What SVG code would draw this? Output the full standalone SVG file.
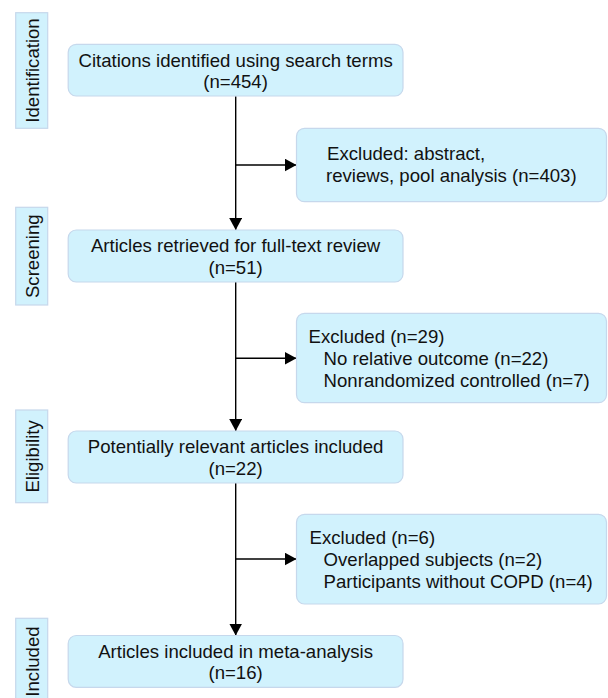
<svg xmlns="http://www.w3.org/2000/svg" width="608" height="698" viewBox="0 0 608 698">
<defs>
<style>
.box{fill:#D1F2FD;stroke:#C6D8EC;stroke-width:1.2}
.lbl{fill:#D1F2FD;stroke:#C6D8EC;stroke-width:1.2}
text{font-family:"Liberation Sans",Arial,sans-serif;font-size:18.6px;fill:#111}
.c{text-anchor:middle}
.conn{fill:none;stroke:#000;stroke-width:1.4}
</style>
<marker id="ah" markerUnits="userSpaceOnUse" markerWidth="12" markerHeight="13" refX="12" refY="6.5" orient="auto">
<path d="M0,0 L12,6.5 L0,13 Z" fill="#000"/>
</marker>
</defs>
<rect width="608" height="698" fill="#fff"/>

<g id="label-identification">
<rect class="lbl" x="15.7" y="12.7" width="32" height="115.6"/>
<text class="c" transform="translate(39,70.5) rotate(-90)">Identification</text>
</g>
<g id="label-screening">
<rect class="lbl" x="15.7" y="207.3" width="32" height="97.7"/>
<text class="c" transform="translate(39,256.2) rotate(-90)">Screening</text>
</g>
<g id="label-eligibility">
<rect class="lbl" x="15.7" y="410" width="32" height="92.7"/>
<text class="c" transform="translate(39,456.4) rotate(-90)">Eligibility</text>
</g>
<g id="label-included">
<rect class="lbl" x="15.7" y="618.3" width="32" height="86"/>
<text class="c" transform="translate(39,661.5) rotate(-90)">Included</text>
</g>

<g id="connectors">
<path class="conn" d="M235.7,96.2 V230" marker-end="url(#ah)"/>
<path class="conn" d="M235.7,165 H296.5" marker-end="url(#ah)"/>
<path class="conn" d="M235.7,282 V431" marker-end="url(#ah)"/>
<path class="conn" d="M235.7,358.3 H296.5" marker-end="url(#ah)"/>
<path class="conn" d="M235.7,483 V635.5" marker-end="url(#ah)"/>
<path class="conn" d="M235.7,559 H296.5" marker-end="url(#ah)"/>
</g>

<g id="box-identified">
<rect class="box" x="68.2" y="44.3" width="334.8" height="51.7" rx="8"/>
<text class="c" x="235.6" y="66.7">Citations identified using search terms</text>
<text class="c" x="235.6" y="88.3">(n=454)</text>
</g>
<g id="box-excluded-1">
<rect class="box" x="296.5" y="128.3" width="310" height="73.4" rx="8"/>
<text x="327" y="160">Excluded: abstract,</text>
<text x="326" y="182">reviews, pool analysis (n=403)</text>
</g>
<g id="box-retrieved">
<rect class="box" x="68.2" y="230" width="334.8" height="52" rx="8"/>
<text class="c" x="235.6" y="252">Articles retrieved for full-text review</text>
<text class="c" x="235.6" y="274">(n=51)</text>
</g>
<g id="box-excluded-2">
<rect class="box" x="296.5" y="313.3" width="310" height="89.4" rx="8"/>
<text x="308.5" y="343.3">Excluded (n=29)</text>
<text x="323.6" y="365.3">No relative outcome (n=22)</text>
<text x="323.6" y="387.3">Nonrandomized controlled (n=7)</text>
</g>
<g id="box-relevant">
<rect class="box" x="68.2" y="431" width="334.8" height="52" rx="8"/>
<text class="c" x="235.6" y="453">Potentially relevant articles included</text>
<text class="c" x="235.6" y="475">(n=22)</text>
</g>
<g id="box-excluded-3">
<rect class="box" x="296.5" y="514.3" width="310" height="89.7" rx="8"/>
<text x="309.5" y="543.7">Excluded (n=6)</text>
<text x="323.6" y="566">Overlapped subjects (n=2)</text>
<text x="323.6" y="588.3">Participants without COPD (n=4)</text>
</g>
<g id="box-included">
<rect class="box" x="68.2" y="635.5" width="334.8" height="51.8" rx="8"/>
<text class="c" x="235.6" y="657.5">Articles included in meta-analysis</text>
<text class="c" x="235.6" y="679.3">(n=16)</text>
</g>
</svg>
